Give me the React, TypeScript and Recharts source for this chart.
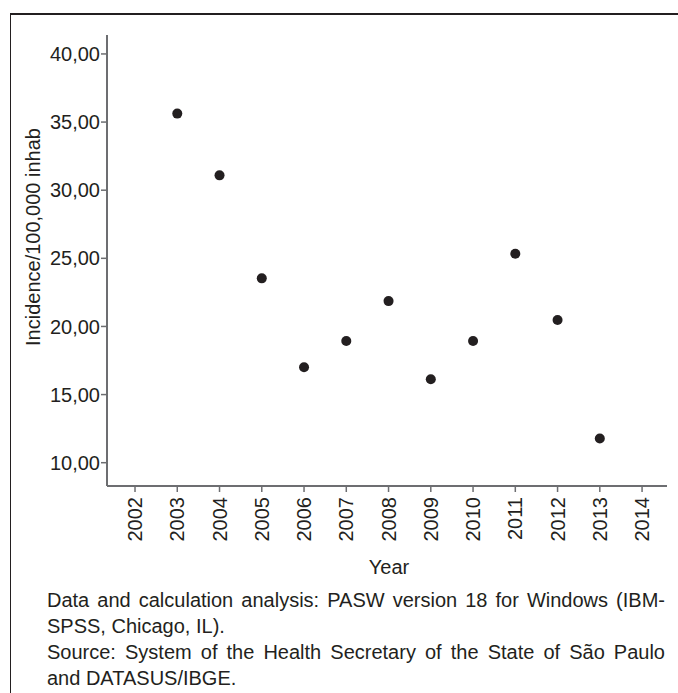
import React from 'react';
import { ScatterChart, Scatter, XAxis, YAxis, Label } from 'recharts';

const years = [2003, 2004, 2005, 2006, 2007, 2008, 2009, 2010, 2011, 2012, 2013];
const incidence = [35.62, 31.09, 23.53, 17.0, 18.93, 21.86, 16.12, 18.93, 25.34, 20.47, 11.78];
const xTicks = [2002, 2003, 2004, 2005, 2006, 2007, 2008, 2009, 2010, 2011, 2012, 2013, 2014];
const yTicks = [10, 15, 20, 25, 30, 35, 40];
const xLabel = 'Year';
const yLabel = 'Incidence/100,000 inhab';
const noteLines = [
  'Data and calculation analysis: PASW version 18 for Windows (IBM-',
  'SPSS, Chicago, IL).',
  'Source: System of the Health Secretary of the State of São Paulo',
  'and DATASUS/IBGE.',
];
const noteJustified = [true, false, true, false];

const data = years.map((y, i) => ({ year: y, value: incidence[i] }));

const FONT = '"Liberation Sans", Arial, Helvetica, sans-serif';
const TEXT = '#231f20';
const AXIS = '#6d6e71';

const fmt = (v: number) => v.toFixed(2).replace('.', ',');

const XTick = (props: any) => {
  const { x, y, payload } = props;
  return (
    <text
      x={x}
      y={y}
      transform={`rotate(-90, ${x}, ${y})`}
      textAnchor="end"
      dominantBaseline="central"
      fill={TEXT}
      fontSize={20}
      fontFamily={FONT}
    >
      {payload.value}
    </text>
  );
};

const Dot = (props: any) => <circle cx={props.cx} cy={props.cy} r={5} fill={TEXT} />;

export default function App() {
  return (
    <div style={{ position: 'absolute', left: 0, top: 0, width: 678, height: 693, overflow: 'hidden', background: '#fff', fontFamily: FONT }}>
      <div
        style={{
          position: 'absolute',
          left: 10,
          top: 13,
          width: 720,
          height: 720,
          borderTop: `2px solid ${TEXT}`,
          borderLeft: `1.5px solid ${TEXT}`,
        }}
      />
      <div style={{ position: 'absolute', left: 0, top: 0 }}>
        <ScatterChart width={678} height={600} margin={{ top: 35, right: 11, bottom: 0, left: 0 }}>
          <XAxis
            type="number"
            dataKey="year"
            domain={[2001.337, 2014.59]}
            ticks={xTicks}
            allowDataOverflow
            height={114}
            tick={<XTick />}
            tickSize={6}
            tickMargin={5}
            axisLine={{ stroke: AXIS, strokeWidth: 2 }}
            tickLine={{ stroke: AXIS, strokeWidth: 1.5 }}
          >
            <Label
              content={(p: any) => {
                const vb = p.viewBox;
                return (
                  <text x={vb.x + vb.width / 2 + 2} y={vb.y + 88} textAnchor="middle" fill={TEXT} fontSize={20} fontFamily={FONT}>
                    {xLabel}
                  </text>
                );
              }}
            />
          </XAxis>
          <YAxis
            type="number"
            dataKey="value"
            domain={[8.29, 41.39]}
            ticks={yTicks}
            allowDataOverflow
            width={107}
            tickFormatter={fmt}
            tick={{ fill: TEXT, fontSize: 20, fontFamily: FONT }}
            tickSize={6}
            tickMargin={1}
            axisLine={{ stroke: AXIS, strokeWidth: 2 }}
            tickLine={{ stroke: AXIS, strokeWidth: 1.5 }}
          >
            <Label
              content={(p: any) => {
                const vb = p.viewBox;
                const cx = vb.x + 33;
                const cy = vb.y + 202;
                return (
                  <text
                    x={cx}
                    y={cy}
                    transform={`rotate(-90, ${cx}, ${cy})`}
                    textAnchor="middle"
                    dominantBaseline="central"
                    fill={TEXT}
                    fontSize={20}
                    fontFamily={FONT}
                  >
                    {yLabel}
                  </text>
                );
              }}
            />
          </YAxis>
          <Scatter data={data} shape={<Dot />} isAnimationActive={false} />
        </ScatterChart>
      </div>
      <div style={{ position: 'absolute', left: 47, top: 587, width: 618, fontSize: 20, lineHeight: '26px', color: TEXT }}>
        {noteLines.map((line, i) => (
          <div key={i} style={{ textAlign: noteJustified[i] ? 'justify' : 'left', textAlignLast: noteJustified[i] ? 'justify' : 'left', whiteSpace: 'nowrap' }}>
            {line}
          </div>
        ))}
      </div>
    </div>
  );
}
